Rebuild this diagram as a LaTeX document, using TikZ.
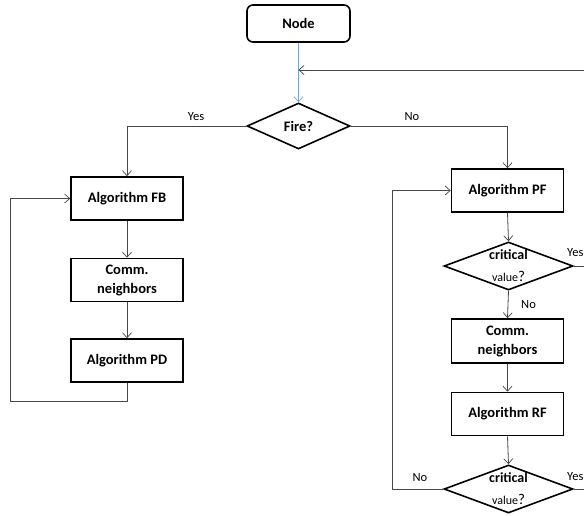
\documentclass[tikz,border=0pt]{standalone}
\usepackage{fontspec}
\setmainfont{Carlito}
\usetikzlibrary{shapes.geometric,arrows.meta}
\tikzset{
  boxfont/.style={font=\fontsize{14.5}{19}\selectfont\bfseries},
  lblfont/.style={font=\fontsize{12.5}{14}\selectfont},
  procbox/.style={draw, line width=1.6pt, rectangle, minimum width=112pt, minimum height=43pt, inner sep=0pt, align=center, boxfont},
  startbox/.style={procbox, rounded corners=6pt, minimum width=103pt, minimum height=37pt},
  decision/.style={draw, line width=1.6pt, shape=diamond, inner sep=0pt, minimum width=129pt, minimum height=48pt},
  conn/.style={draw=black!72, line width=0.8pt, -{Straight Barb[length=5pt,width=9pt,line width=0.7pt]}},
  plainconn/.style={draw=black!72, line width=0.8pt},
  lbl/.style={lblfont, inner sep=0pt},
  crittext/.style={align=center, inner sep=0pt, font=\fontsize{14}{22}\selectfont}
}
\definecolor{lineblue}{RGB}{120,160,215}
\newcommand{\crittxt}{{\bfseries critical}\\{\fontsize{12}{22}\selectfont value}{\fontsize{15}{22}\selectfont ?}}
\begin{document}
\begin{tikzpicture}[x=1pt,y=-1pt]
\useasboundingbox (0,0) rectangle (584,515);
\node[startbox] (node) at (298.5,23.5) {Node};
\node[decision, minimum width=103pt, minimum height=46pt, label={[boxfont]center:Fire?}] (fire) at (298.5,126) {};
\node[procbox] (fb) at (127,198.5) {Algorithm FB};
\node[procbox] (cnl) at (127,280) {Comm.\\neighbors};
\node[procbox] (pd) at (127,360.5) {Algorithm PD};
\node[procbox] (pf) at (507.5,190.5) {Algorithm PF};
\node[decision, label={[crittext]center:\crittxt}] (c1) at (508.5,266) {};
\node[procbox, minimum height=44pt] (cnr) at (507.5,341) {Comm.\\neighbors};
\node[procbox] (rf) at (507.5,414) {Algorithm RF};
\node[decision, label={[crittext]center:\crittxt}] (c2) at (508.5,489) {};
\coordinate (ret) at (590,70);
\coordinate (y1out) at (590,266);
\coordinate (y2out) at (590,489);
% connectors
\draw[draw=lineblue, line width=0.9pt, -{Straight Barb[length=5pt,width=9pt,line width=0.7pt]}] (node.south) -- (fire.north);
\draw[conn] (ret) -- (ret -| node.south);
\draw[conn] (fire.west) -| (fb.north);
\draw[conn] (fire.east) -| (pf.north);
\draw[conn] (fb.south) -- (cnl.north);
\draw[conn] (cnl.south) -- (pd.north);
\draw[conn] (pd.south) |- (10,401) |- (fb.west);
\draw[conn] (pf.south) -- (c1.north);
\draw[conn] (c1.south) -- (cnr.north);
\draw[conn] (cnr.south) -- (rf.north);
\draw[conn] (rf.south) -- (c2.north);
\draw[conn] (c2.west) -- (392,489) |- (pf.west);
\draw[plainconn] (c1.east) -- (y1out);
\draw[plainconn] (c2.east) -- (y2out);
% labels
\node[lbl] (lyes) at (196,117) {Yes};
\node[lbl] (lno) at (412,117) {No};
\node[lbl, anchor=west] (lyes1) at (567,253) {Yes};
\node[lbl, anchor=west] (lno1) at (521,305) {No};
\node[lbl] (lno2) at (420,478) {No};
\node[lbl, anchor=west] (lyes2) at (567,477) {Yes};
\end{tikzpicture}
\end{document}
